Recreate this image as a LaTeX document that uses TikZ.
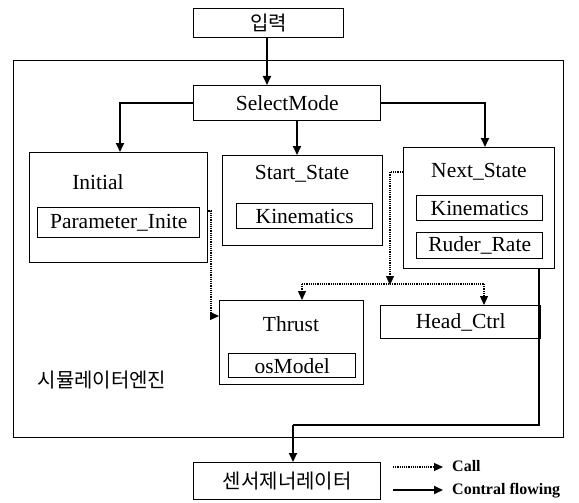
\documentclass[tikz,border=0pt]{standalone}
\usepackage{fontspec}
\setmainfont{Liberation Serif}
\newfontfamily\krfont{Noto Sans CJK KR}
\usetikzlibrary{arrows.meta}
\tikzset{
  box/.style={draw, line width=1.4pt, inner sep=0pt, anchor=north west},
  lbl/.style={inner sep=0pt, font=\fontsize{21.5}{24}\selectfont},
  kr/.style={inner sep=0pt, font=\krfont\fontsize{20}{24}\selectfont},
  legend/.style={inner sep=0pt, anchor=west, font=\bfseries\fontsize{16}{18}\selectfont},
  flow/.style={line width=1.8pt, -{Triangle[length=9pt,width=8pt]}},
  flowline/.style={line width=1.8pt},
  callline/.style={line width=1.2pt, densely dotted},
  call/.style={line width=1.2pt, densely dotted, -{Triangle[length=9pt,width=8pt]}},
}
\begin{document}
\begin{tikzpicture}[x=1pt,y=-1pt]
\useasboundingbox (0,0) rectangle (579,503);
% input
\node[box, minimum width=150pt, minimum height=29pt] (inp) at (193,8) {};
\node[kr] (inpt) at (inp.center) {입력};
% frame
\node[box, minimum width=550pt, minimum height=377pt] (frame) at (13,60) {};
\node[kr] (eng) at (102,380) {시뮬레이터엔진};
% select mode
\node[box, minimum width=187pt, minimum height=35pt] (sel) at (193,85) {};
\node[lbl] (selt) at (sel.center) {SelectMode};
% initial
\node[box, minimum width=178pt, minimum height=110pt] (ini) at (29,152) {};
\node[lbl] (init) at (98,182) {Initial};
\node[box, minimum width=162pt, minimum height=30pt] (par) at (37,207) {};
\node[lbl] (part) at (par.center) {Parameter\_Inite};
% start state
\node[box, minimum width=160pt, minimum height=90pt] (sta) at (222,155) {};
\node[lbl] (stat) at (302,174) {Start\_State};
\node[box, minimum width=136pt, minimum height=25pt] (kin1) at (236,203) {};
\node[lbl] (kin1t) at (kin1.center) {Kinematics};
% next state
\node[box, minimum width=151pt, minimum height=121pt] (nxt) at (403,147) {};
\node[lbl] (nxtt) at (479,172) {Next\_State};
\node[box, minimum width=126pt, minimum height=25pt] (kin2) at (416,195) {};
\node[lbl] (kin2t) at (kin2.center) {Kinematics};
\node[box, minimum width=126pt, minimum height=26pt] (rud) at (416,232) {};
\node[lbl] (rudt) at (rud.center) {Ruder\_Rate};
% thrust
\node[box, minimum width=144pt, minimum height=84pt] (thr) at (219,300) {};
\node[lbl] (thrt) at (291,324) {Thrust};
\node[box, minimum width=127pt, minimum height=24pt] (osm) at (228,353) {};
\node[lbl] (osmt) at (osm.center) {osModel};
% head ctrl
\node[box, minimum width=160pt, minimum height=33pt] (hed) at (380,305) {};
\node[lbl] (hedt) at (hed.center) {Head\_Ctrl};
% sensor
\node[box, minimum width=187pt, minimum height=37pt] (sen) at (193,462) {};
\node[kr] (sent) at (sen.center) {센서제너레이터};
% legend
\coordinate (l1a) at (393,467);
\coordinate (l1b) at (443,467);
\coordinate (l2a) at (393,490);
\coordinate (l2b) at (443,490);
\node[legend] (lcall) at (452,466) {Call};
\node[legend] (lflow) at (452,491) {Contral flowing};
\draw[call] (l1a) -- (l1b);
\draw[flow] (l2a) -- (l2b);
% flow connectors
\draw[flow] (inp.south -| 267,0) -- (sel.north -| 267,0);
\draw[flow] (sel.west) -| (ini.north -| 120,0);
\draw[flow] (sel.south -| 297,0) -- (sta.north -| 297,0);
\draw[flow] (sel.east) -| (nxt.north -| 485,0);
\draw[flowline] (nxt.south -| 539,0) -- (539,425) -- (293,425);
\draw[flow] (293,425) -- (sen.north -| 293,0);
% call connectors
\draw[call] (ini.east |- 0,211) -- (211,211) -- (211,316) -- (thr.west |- 0,316);
\draw[callline] (nxt.west |- 0,172) -- (390,172) -- (390,277);
\draw[-{Triangle[length=9pt,width=8pt]}] (390,276) -- (390,285);
\draw[callline] (302,284) -- (484,284);
\draw[call] (302,284) -- (thr.north -| 302,0);
\draw[call] (484,284) -- (hed.north -| 484,0);
\end{tikzpicture}
\end{document}
